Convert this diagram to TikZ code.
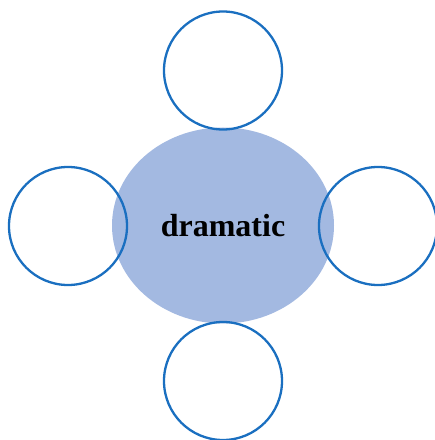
\documentclass[tikz,border=0pt]{standalone}
\usepackage{fontspec}
\setmainfont{Liberation Serif}
\usetikzlibrary{shapes.geometric}
\definecolor{ringblue}{HTML}{1A6FC0}
\definecolor{centerfill}{HTML}{A3B9E1}
\begin{document}
\begin{tikzpicture}[x=1pt,y=1pt,
  ring/.style={circle,draw=ringblue,line width=2.3pt,minimum size=118pt,inner sep=0pt}]
\useasboundingbox (0,0) rectangle (435,440);
\node[ellipse,fill=centerfill,minimum width=222pt,minimum height=196pt,inner sep=0pt,
  font=\fontsize{32}{36}\selectfont\bfseries] (c) at (223,214.5) {dramatic};
\node[ring] (top) at (223,369.5) {};
\node[ring] (left) at (68,214) {};
\node[ring] (right) at (378,214) {};
\node[ring] (bottom) at (223,59) {};
\end{tikzpicture}
\end{document}
